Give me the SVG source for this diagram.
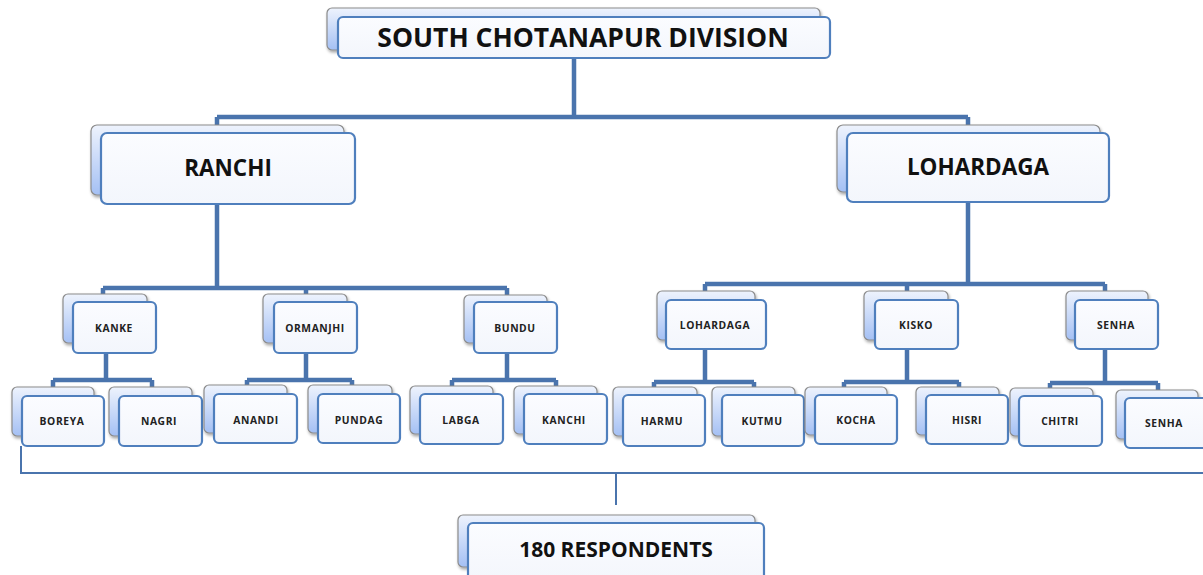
<svg xmlns="http://www.w3.org/2000/svg" width="1203" height="575" viewBox="0 0 1203 575">
<defs>
<linearGradient id="bg" x1="0" y1="0" x2="0" y2="1">
<stop offset="0" stop-color="#eef3fd"/>
<stop offset="1" stop-color="#a4c0f4"/>
</linearGradient>
<linearGradient id="fg" x1="0" y1="0" x2="0" y2="1">
<stop offset="0" stop-color="#fbfcff"/>
<stop offset="1" stop-color="#f3f6fc"/>
</linearGradient>
<filter id="sh" x="-10%" y="-10%" width="130%" height="140%">
<feDropShadow dx="1" dy="2" stdDeviation="1.5" flood-color="#000" flood-opacity="0.35"/>
</filter>
</defs>
<style>
.back{fill:url(#bg);stroke:#8c8c8c;stroke-width:1.2;filter:url(#sh)}
.front{fill:url(#fg);stroke:#4f7fbd;stroke-width:2.2}
.t{font-family:"Open Sans","Liberation Sans",sans-serif;font-weight:bold;fill:#111;text-anchor:middle;dominant-baseline:central}
.big{font-size:26.5px}
.mid{font-size:22.5px}
.rsp{font-size:21px}
.sm{font-size:10.3px;letter-spacing:0.6px;fill:#222}
.c{fill:none;stroke:#4a74ad;stroke-width:4.5;stroke-linejoin:miter}
.c2{fill:none;stroke:#4a74ad;stroke-width:2}
</style>
<rect width="1203" height="575" fill="#fff"/>
<g id="connectors">
<path class="c" d="M574 58 V117 M217 117 H968 M217 117 V135 M968 117 V135"/>
<path class="c" d="M217 204 V288 M103 288 H507 M103 288 V302 M306 288 V302 M507 288 V302"/>
<path class="c" d="M968 202 V284 M705 284 H1105 M705 284 V300 M907 284 V300 M1105 284 V300"/>
<path class="c" d="M106 353 V380 M53 380 H152 M53 380 V388 M152 380 V388"/>
<path class="c" d="M306 353 V380 M247 380 H352 M247 380 V386 M352 380 V386"/>
<path class="c" d="M507 353 V380 M452 380 H556 M452 380 V387 M556 380 V387"/>
<path class="c" d="M705 349 V382 M654 382 H754 M654 382 V388 M754 382 V388"/>
<path class="c" d="M907 349 V382 M844 382 H959 M844 382 V388 M959 382 V388"/>
<path class="c" d="M1105 349 V383 M1050 383 H1158 M1050 383 V389 M1158 383 V391"/>
<path class="c2" d="M21 446 V473 H1203 M616 473 V505"/>
</g>
<g id="n-division">
<rect class="back" x="327" y="8" width="493" height="42" rx="5"/>
<rect class="front" x="338" y="17" width="492" height="41" rx="5"/>
<text class="t big" x="583" y="37">SOUTH CHOTANAPUR DIVISION</text>
</g>
<g id="n-ranchi">
<rect class="back" x="91" y="125" width="253" height="70" rx="6"/>
<rect class="front" x="101" y="133" width="254" height="71" rx="6"/>
<text class="t mid" x="228" y="167">RANCHI</text>
</g>
<g id="n-lohardaga">
<rect class="back" x="837" y="125" width="263" height="67" rx="6"/>
<rect class="front" x="847" y="133" width="262" height="69" rx="6"/>
<text class="t mid" x="978" y="166">LOHARDAGA</text>
</g>
<g id="n-kanke">
<rect class="back" x="63" y="294" width="84" height="49" rx="5"/>
<rect class="front" x="73" y="302" width="83" height="51" rx="5"/>
<text class="t sm" x="114" y="328">KANKE</text>
</g>
<g id="n-ormanjhi">
<rect class="back" x="263" y="294" width="84" height="49" rx="5"/>
<rect class="front" x="274" y="302" width="83" height="51" rx="5"/>
<text class="t sm" x="315" y="328">ORMANJHI</text>
</g>
<g id="n-bundu">
<rect class="back" x="464" y="295" width="83" height="48" rx="5"/>
<rect class="front" x="474" y="302" width="83" height="51" rx="5"/>
<text class="t sm" x="515" y="328">BUNDU</text>
</g>
<g id="n-lohardaga2">
<rect class="back" x="657" y="291" width="98" height="49" rx="5"/>
<rect class="front" x="666" y="300" width="100" height="49" rx="5"/>
<text class="t sm" x="715" y="325">LOHARDAGA</text>
</g>
<g id="n-kisko">
<rect class="back" x="864" y="291" width="84" height="49" rx="5"/>
<rect class="front" x="875" y="300" width="83" height="49" rx="5"/>
<text class="t sm" x="916" y="325">KISKO</text>
</g>
<g id="n-senha">
<rect class="back" x="1066" y="291" width="82" height="49" rx="5"/>
<rect class="front" x="1075" y="300" width="83" height="49" rx="5"/>
<text class="t sm" x="1116" y="325">SENHA</text>
</g>
<g id="n-boreya">
<rect class="back" x="12" y="387" width="82" height="49" rx="5"/>
<rect class="front" x="22" y="396" width="82" height="50" rx="5"/>
<text class="t sm" x="62" y="421">BOREYA</text>
</g>
<g id="n-nagri">
<rect class="back" x="109" y="387" width="83" height="49" rx="5"/>
<rect class="front" x="119" y="396" width="83" height="50" rx="5"/>
<text class="t sm" x="159" y="421">NAGRI</text>
</g>
<g id="n-anandi">
<rect class="back" x="204" y="385" width="83" height="48" rx="5"/>
<rect class="front" x="214" y="394" width="83" height="49" rx="5"/>
<text class="t sm" x="256" y="420">ANANDI</text>
</g>
<g id="n-pundag">
<rect class="back" x="308" y="385" width="84" height="48" rx="5"/>
<rect class="front" x="318" y="394" width="82" height="49" rx="5"/>
<text class="t sm" x="359" y="420">PUNDAG</text>
</g>
<g id="n-labga">
<rect class="back" x="410" y="386" width="83" height="48" rx="5"/>
<rect class="front" x="420" y="394" width="83" height="50" rx="5"/>
<text class="t sm" x="461" y="420">LABGA</text>
</g>
<g id="n-kanchi">
<rect class="back" x="514" y="386" width="83" height="48" rx="5"/>
<rect class="front" x="524" y="394" width="83" height="50" rx="5"/>
<text class="t sm" x="564" y="420">KANCHI</text>
</g>
<g id="n-harmu">
<rect class="back" x="613" y="387" width="84" height="49" rx="5"/>
<rect class="front" x="623" y="395" width="82" height="51" rx="5"/>
<text class="t sm" x="662" y="421">HARMU</text>
</g>
<g id="n-kutmu">
<rect class="back" x="712" y="387" width="83" height="49" rx="5"/>
<rect class="front" x="722" y="395" width="82" height="51" rx="5"/>
<text class="t sm" x="762" y="421">KUTMU</text>
</g>
<g id="n-kocha">
<rect class="back" x="805" y="387" width="82" height="48" rx="5"/>
<rect class="front" x="815" y="395" width="82" height="49" rx="5"/>
<text class="t sm" x="856" y="420">KOCHA</text>
</g>
<g id="n-hisri">
<rect class="back" x="916" y="387" width="83" height="48" rx="5"/>
<rect class="front" x="926" y="395" width="82" height="49" rx="5"/>
<text class="t sm" x="967" y="420">HISRI</text>
</g>
<g id="n-chitri">
<rect class="back" x="1010" y="388" width="83" height="48" rx="5"/>
<rect class="front" x="1019" y="396" width="83" height="50" rx="5"/>
<text class="t sm" x="1060" y="421">CHITRI</text>
</g>
<g id="n-senha2">
<rect class="back" x="1116" y="390" width="82" height="49" rx="5"/>
<rect class="front" x="1125" y="398" width="86" height="50" rx="5"/>
<text class="t sm" x="1164" y="423">SENHA</text>
</g>
<g id="n-respondents">
<rect class="back" x="458" y="515" width="297" height="52" rx="5"/>
<rect class="front" x="468" y="523" width="296" height="60" rx="5"/>
<text class="t rsp" x="616" y="549">180 RESPONDENTS</text>
</g>
</svg>
